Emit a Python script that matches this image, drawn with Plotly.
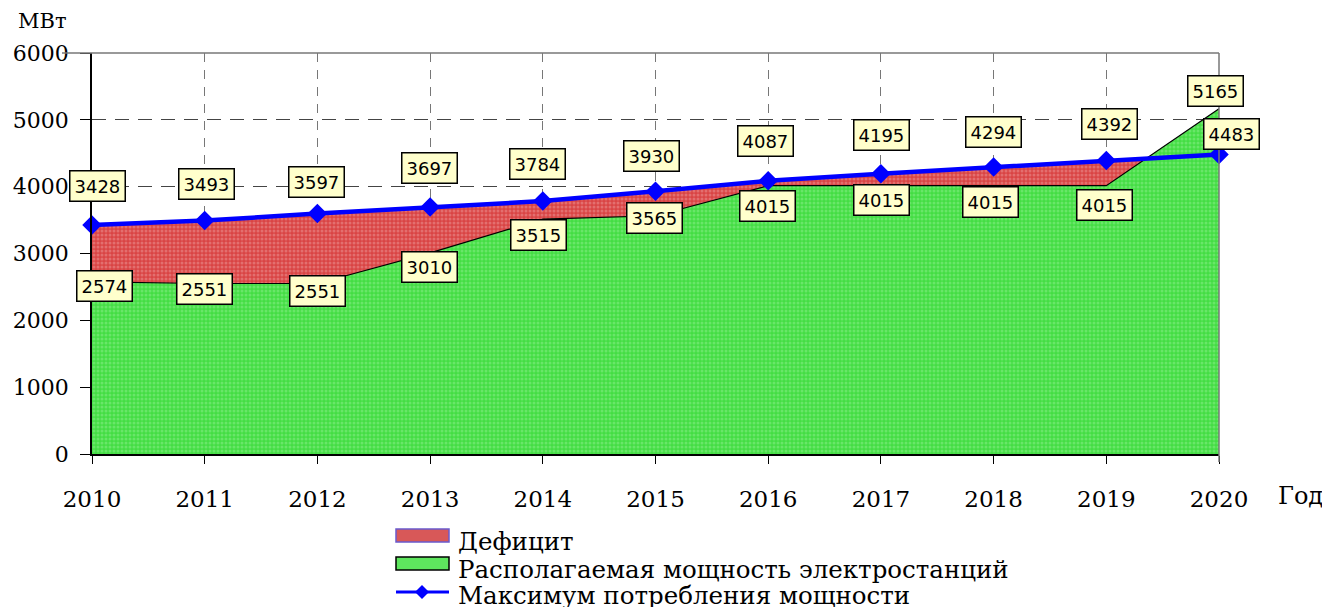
import plotly.graph_objects as go

years = [2010, 2011, 2012, 2013, 2014, 2015, 2016, 2017, 2018, 2019, 2020]
max_consumption = [3428, 3493, 3597, 3697, 3784, 3930, 4087, 4195, 4294, 4392, 4483]
available_capacity = [2574, 2551, 2551, 3010, 3515, 3565, 4015, 4015, 4015, 4015, 5165]
y_ticks = [0, 1000, 2000, 3000, 4000, 5000, 6000]
legend_labels = ["Дефицит", "Располагаемая мощность электростанций", "Максимум потребления мощности"]

# label pixel offsets (style only)
cons_dx = [5, 2, -1, -1, -5, -4, -3, 1, 0, 3, 12]
cons_dy = [39, 37, 32, 39, 37, 35, 40, 39, 35, 36, 20]
avail_dx = [12, 0, 0, -1, -4, -1, -1, 1, -3, -2, -4]
avail_dy = [-4, -5, -7, -14, -16, -2, -20, -14, -16, -19, 18]

OFF = 8  # browser body margin
W, H = 1330 - OFF, 607 - OFF
L, R, T, B = 92, 1219, 53, 454  # plot area in page pixels

def px(x):
    return (x - L) / (R - L)

def py(y):
    return (B - y) / (B - T)

RED_BG = "#d94444"
RED_FG = "#ee9a9a"
GREEN_BG = "#44dd44"
GREEN_FG = "#8ef08e"
BLUE = "#0000ff"
SERIF = "DejaVu Serif"

fig = go.Figure()

fig.add_trace(go.Scatter(
    x=years, y=max_consumption, mode="lines", fill="tozeroy",
    line=dict(color=BLUE, width=1), fillcolor=RED_BG,
    fillpattern=dict(shape=".", fgcolor=RED_FG, bgcolor=RED_BG, size=4, solidity=0.45),
    name=legend_labels[0], showlegend=False, hoverinfo="skip"))

fig.add_trace(go.Scatter(
    x=years, y=available_capacity, mode="lines", fill="tozeroy",
    line=dict(color="black", width=1.2), fillcolor=GREEN_BG,
    fillpattern=dict(shape=".", fgcolor=GREEN_FG, bgcolor=GREEN_BG, size=4, solidity=0.45),
    name=legend_labels[1], showlegend=False))

fig.add_trace(go.Scatter(
    x=years, y=max_consumption, mode="lines+markers",
    line=dict(color=BLUE, width=4.5),
    marker=dict(symbol="diamond", size=15, color=BLUE),
    cliponaxis=False, name=legend_labels[2], showlegend=False))

annotations = []
box = dict(bgcolor="#ffffcc", bordercolor="black", borderwidth=1.5, borderpad=4,
           font=dict(family="DejaVu Sans", size=18, color="black"), showarrow=False,
           xanchor="center", yanchor="middle")
for i, yr in enumerate(years):
    annotations.append(dict(x=yr, y=max_consumption[i], xref="x", yref="y",
                            text=str(max_consumption[i]), xshift=cons_dx[i], yshift=cons_dy[i], **box))
    annotations.append(dict(x=yr, y=available_capacity[i], xref="x", yref="y",
                            text=str(available_capacity[i]), xshift=avail_dx[i], yshift=avail_dy[i], **box))

annotations.append(dict(x=px(42), y=py(21), xref="paper", yref="paper", text="МВт",
                        xanchor="center", yanchor="middle",
                        showarrow=False, font=dict(family=SERIF, size=21, color="black")))
annotations.append(dict(x=px(1300), y=py(496), xref="paper", yref="paper", text="Год",
                        xanchor="center", yanchor="middle",
                        showarrow=False, font=dict(family=SERIF, size=24, color="black")))

# manual legend
legend_rows = [541, 569, 595]
for i, lab in enumerate(legend_labels):
    annotations.append(dict(x=px(456), y=py(legend_rows[i]), xref="paper", yref="paper",
                            text=lab, xanchor="left", yanchor="middle", showarrow=False,
                            font=dict(family=SERIF, size=24.5, color="black")))

shapes = [
    dict(type="rect", xref="paper", yref="paper", x0=px(396), x1=px(449), y0=py(542), y1=py(529),
         fillcolor="#d85858", line=dict(color="#6a5acd", width=1.5)),
    dict(type="rect", xref="paper", yref="paper", x0=px(396), x1=px(449), y0=py(570), y1=py(557),
         fillcolor="#5ee65e", line=dict(color="black", width=1.5)),
    dict(type="line", xref="paper", yref="paper", x0=px(396), x1=px(449), y0=py(592), y1=py(592),
         line=dict(color=BLUE, width=3)),
    dict(type="path", xref="paper", yref="paper",
         path="M {a},{b} L {c},{d} L {a},{e} L {f},{d} Z".format(
             a=px(422), b=py(585), c=px(429), d=py(592), e=py(599), f=px(415)),
         fillcolor=BLUE, line=dict(color=BLUE, width=0)),
    # top and right border
    dict(type="line", xref="paper", yref="paper", x0=0, x1=1, y0=1, y1=1,
         line=dict(color="#777777", width=1.5), layer="below"),
    dict(type="line", xref="paper", yref="paper", x0=1, x1=1, y0=-0.02, y1=1,
         line=dict(color="#777777", width=1.5)),
    dict(type="line", xref="paper", yref="paper", x0=px(62), x1=0, y0=1, y1=1,
         line=dict(color="#777777", width=1.5)),
]

fig.update_layout(
    width=W, height=H,
    margin=dict(l=L - OFF, r=(W + OFF) - R, t=T - OFF, b=(H + OFF) - B, autoexpand=False),
    paper_bgcolor="white", plot_bgcolor="white",
    showlegend=False,
    annotations=annotations, shapes=shapes,
    xaxis=dict(range=[2010, 2020], tickvals=years, ticktext=[str(y) for y in years],
               automargin=False,
               showline=True, linecolor="black", linewidth=1.5,
               ticks="outside", ticklen=8, tickcolor="black", tickwidth=1.2,
               showgrid=True, gridcolor="#777777", gridwidth=1, griddash="9px,8px",
               zeroline=False, ticklabelstandoff=16,
               tickfont=dict(family=SERIF, size=23, color="black")),
    yaxis=dict(range=[0, 6000], tickvals=y_ticks,
               automargin=False,
               showline=True, linecolor="black", linewidth=1.5,
               ticks="outside", ticklen=10, tickcolor="black", tickwidth=1.2,
               showgrid=True, gridcolor="#444444", gridwidth=1, griddash="14px,9px",
               zeroline=False, ticklabelstandoff=7,
               tickfont=dict(family=SERIF, size=22, color="black")),
)

fig.write_html("out.html")
